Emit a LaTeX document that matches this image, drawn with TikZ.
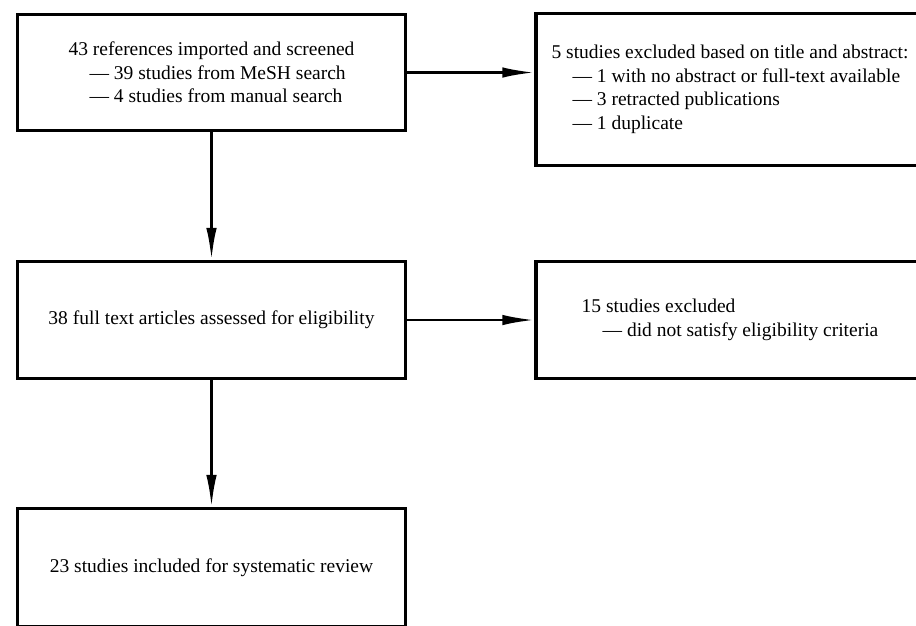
\documentclass[tikz,border=0pt]{standalone}
\usepackage{fontspec}
\setmainfont{Liberation Serif}
\usetikzlibrary{positioning}
\usetikzlibrary{shapes.geometric, arrows.meta}
\newcommand{\ind}{\hspace*{21pt}}

\begin{document}
\begin{tikzpicture}[x=1pt,y=-1pt,
        box/.style={draw, line width=3.4pt, minimum width=388pt, align=left,
            font=\fontsize{19.5}{23.5}\selectfont},
        flow/.style={line width=2.6pt, -{Latex[length=32pt,width=10.5pt]}}]
        % Frame
        \useasboundingbox (0,0) rectangle (916,625);
        \clip (0,0) rectangle (916,625);
        % Left column
        \node[box, minimum height=116pt] (refs) at (211.5,72.5)
            {43 references imported and screened\\
             \ind--- 39 studies from MeSH search\\
             \ind--- 4 studies from manual search};
        \node[box, minimum height=117pt] (full) at (211.5,320)
            {38 full text articles assessed for eligibility};
        \node[box, minimum height=118pt] (incl) at (211.5,567.6)
            {23 studies included for systematic review};
        % Right column
        \node[box, minimum height=152pt] (excl1) at (730,89.5)
            {5 studies excluded based on title and abstract:\\
             \ind--- 1 with no abstract or full-text available\\
             \ind--- 3 retracted publications\\
             \ind--- 1 duplicate};
        \node[box, minimum height=117pt] (excl2) at (730,320)
            {15 studies excluded\\
             \ind--- did not satisfy eligibility criteria};
        % Arrows
        \draw[flow] (refs) -- (full);
        \draw[flow] (full) -- (incl);
        \draw[flow] (refs.east) -- (refs.east -| excl1.west);
        \draw[flow] (full) -- (excl2);
    \end{tikzpicture}
\end{document}
